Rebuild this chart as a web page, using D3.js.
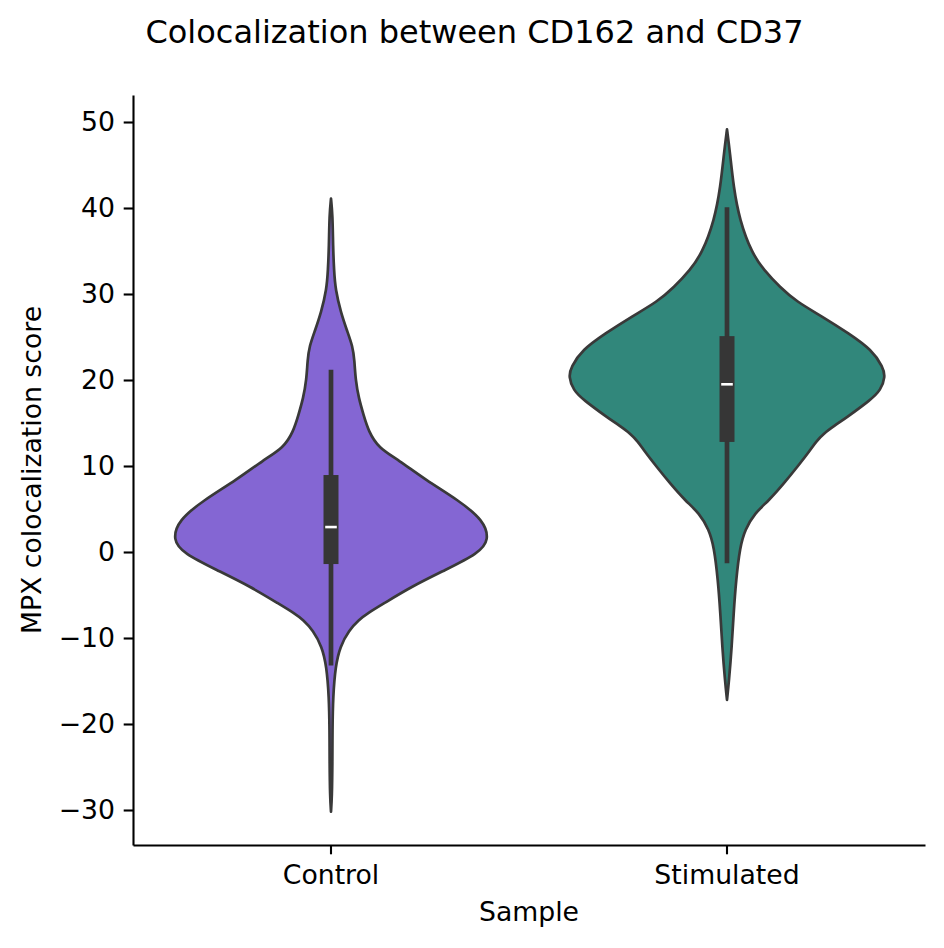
<!DOCTYPE html>
<html>
<head>
<meta charset="utf-8">
<script src="https://cdn.jsdelivr.net/npm/d3@7"></script>
<style>
  body { margin: 0; background: #fff; }
  text { font-family: "DejaVu Sans", sans-serif; fill: #000; }
</style>
</head>
<body>
<script>
// Chart data
var samples = ["Control", "Stimulated"];
var fillColors = ["#8466d3", "#31877b"];

// density profile of each violin: score value and relative width (1 = widest)
var controlScores  = [41.1, 39.2, 35.5, 32.8, 30.5, 27.8, 25.8, 23.9, 22.3, 20.0, 17.9, 15.9, 14.0, 12.1, 10.7, 8.4, 6.0, 3.7, 1.4, -0.15, -2.1, -4.0, -6.0, -7.1, -7.9, -9.1, -11.0, -13.3, -16.8, -20.7, -24.5, -28.5, -30.2];
var controlDensity = [0, 0.01, 0.013, 0.019, 0.028, 0.063, 0.10, 0.137, 0.148, 0.155, 0.175, 0.206, 0.238, 0.30, 0.427, 0.595, 0.806, 0.963, 1.0, 0.932, 0.721, 0.511, 0.332, 0.233, 0.175, 0.114, 0.057, 0.028, 0.013, 0.009, 0.009, 0.006, 0];

var stimScores  = [49.15, 46.4, 42.5, 38.6, 34.7, 32.8, 30.8, 29.1, 27.4, 25.4, 23.5, 21.5, 20.4, 18.8, 17.7, 15.7, 14.7, 13.8, 12.8, 11.9, 9.9, 8.0, 6.0, 4.5, 2.6, 0.6, -3.3, -7.1, -11.0, -14.9, -17.2];
var stimDensity = [0, 0.019, 0.041, 0.079, 0.158, 0.233, 0.334, 0.44, 0.60, 0.77, 0.915, 0.985, 1.0, 0.97, 0.907, 0.759, 0.68, 0.612, 0.56, 0.528, 0.444, 0.36, 0.265, 0.174, 0.114, 0.082, 0.057, 0.042, 0.030, 0.013, 0];

// inner box stats: [whisker low, q1, median, q3, whisker high]
var controlBox = [-13.2, -1.4, 2.9, 8.95, 21.2];
var stimBox    = [-1.3, 12.8, 19.5, 25.1, 40.1];

var yTicks = [-30, -20, -10, 0, 10, 20, 30, 40, 50];

// Chart Params
var svgWidth = 944;
var svgHeight = 948;
var margin = { top: 95, right: 19, bottom: 103, left: 133 };
var width = svgWidth - margin.left - margin.right;
var height = svgHeight - margin.top - margin.bottom;

var svg = d3.select("body")
  .append("svg")
  .attr("width", svgWidth)
  .attr("height", svgHeight);

var chartGroup = svg.append("g")
  .attr("transform", `translate(${margin.left}, ${margin.top})`);

// scales
var xBandScale = d3.scaleBand()
  .domain(samples)
  .range([0, width])
  .padding(0);

var yLinearScale = d3.scaleLinear()
  .domain([-34.07, 53.14])
  .range([height, 0]);

// violin half width = 0.4 of a category band
var wScale = d3.scaleLinear()
  .domain([0, 1])
  .range([0, xBandScale.bandwidth() * 0.4]);

var violins = [
  { name: samples[0], scores: controlScores, density: controlDensity, box: controlBox, color: fillColors[0] },
  { name: samples[1], scores: stimScores, density: stimDensity, box: stimBox, color: fillColors[1] }
];

violins.forEach(function(v) {
  var cx = xBandScale(v.name) + xBandScale.bandwidth() / 2;
  var pts = v.scores.map((s, i) => ({ y: s, d: v.density[i] }));

  var area = d3.area()
    .curve(d3.curveBasis)
    .y(d => yLinearScale(d.y))
    .x0(d => cx - wScale(d.d))
    .x1(d => cx + wScale(d.d));

  chartGroup.append("path")
    .datum(pts)
    .attr("d", area)
    .attr("fill", v.color)
    .attr("stroke", "#393939")
    .attr("stroke-width", 2.7)
    .attr("stroke-linejoin", "round");

  // whisker line
  chartGroup.append("line")
    .attr("x1", cx).attr("x2", cx)
    .attr("y1", yLinearScale(v.box[0]))
    .attr("y2", yLinearScale(v.box[4]))
    .attr("stroke", "#363636")
    .attr("stroke-width", 4.7);

  // box
  chartGroup.append("rect")
    .attr("x", cx - 7.5)
    .attr("width", 15)
    .attr("y", yLinearScale(v.box[3]))
    .attr("height", yLinearScale(v.box[1]) - yLinearScale(v.box[3]))
    .attr("fill", "#363636");

  // median
  chartGroup.append("line")
    .attr("x1", cx - 5.8).attr("x2", cx + 5.8)
    .attr("y1", yLinearScale(v.box[2]))
    .attr("y2", yLinearScale(v.box[2]))
    .attr("stroke", "#fff")
    .attr("stroke-width", 2.6);
});

// axes
var leftAxis = d3.axisLeft(yLinearScale)
  .tickValues(yTicks)
  .tickFormat(d3.format("d"))
  .tickSize(9.3)
  .tickPadding(8.7)
  .tickSizeOuter(0);

var bottomAxis = d3.axisBottom(xBandScale)
  .tickSize(9.3)
  .tickPadding(11)
  .tickSizeOuter(0);

var yAxis = chartGroup.append("g").call(leftAxis);
var xAxis = chartGroup.append("g")
  .attr("transform", `translate(0, ${height})`)
  .call(bottomAxis);

[yAxis, xAxis].forEach(function(ax) {
  ax.selectAll("path, line").attr("stroke", "#000").attr("stroke-width", 2.1);
  ax.selectAll("text")
    .attr("font-family", "DejaVu Sans")
    .attr("font-size", "26.7px")
    .attr("fill", "#000");
});

// titles
svg.append("text")
  .attr("x", 474.5)
  .attr("y", 43)
  .attr("text-anchor", "middle")
  .attr("font-size", "32px")
  .text("Colocalization between CD162 and CD37");

svg.append("text")
  .attr("x", margin.left + width / 2)
  .attr("y", 921)
  .attr("text-anchor", "middle")
  .attr("font-size", "26.7px")
  .text("Sample");

svg.append("text")
  .attr("transform", `translate(41, ${margin.top + height / 2}) rotate(-90)`)
  .attr("text-anchor", "middle")
  .attr("font-size", "26.7px")
  .text("MPX colocalization score");
</script>
</body>
</html>
